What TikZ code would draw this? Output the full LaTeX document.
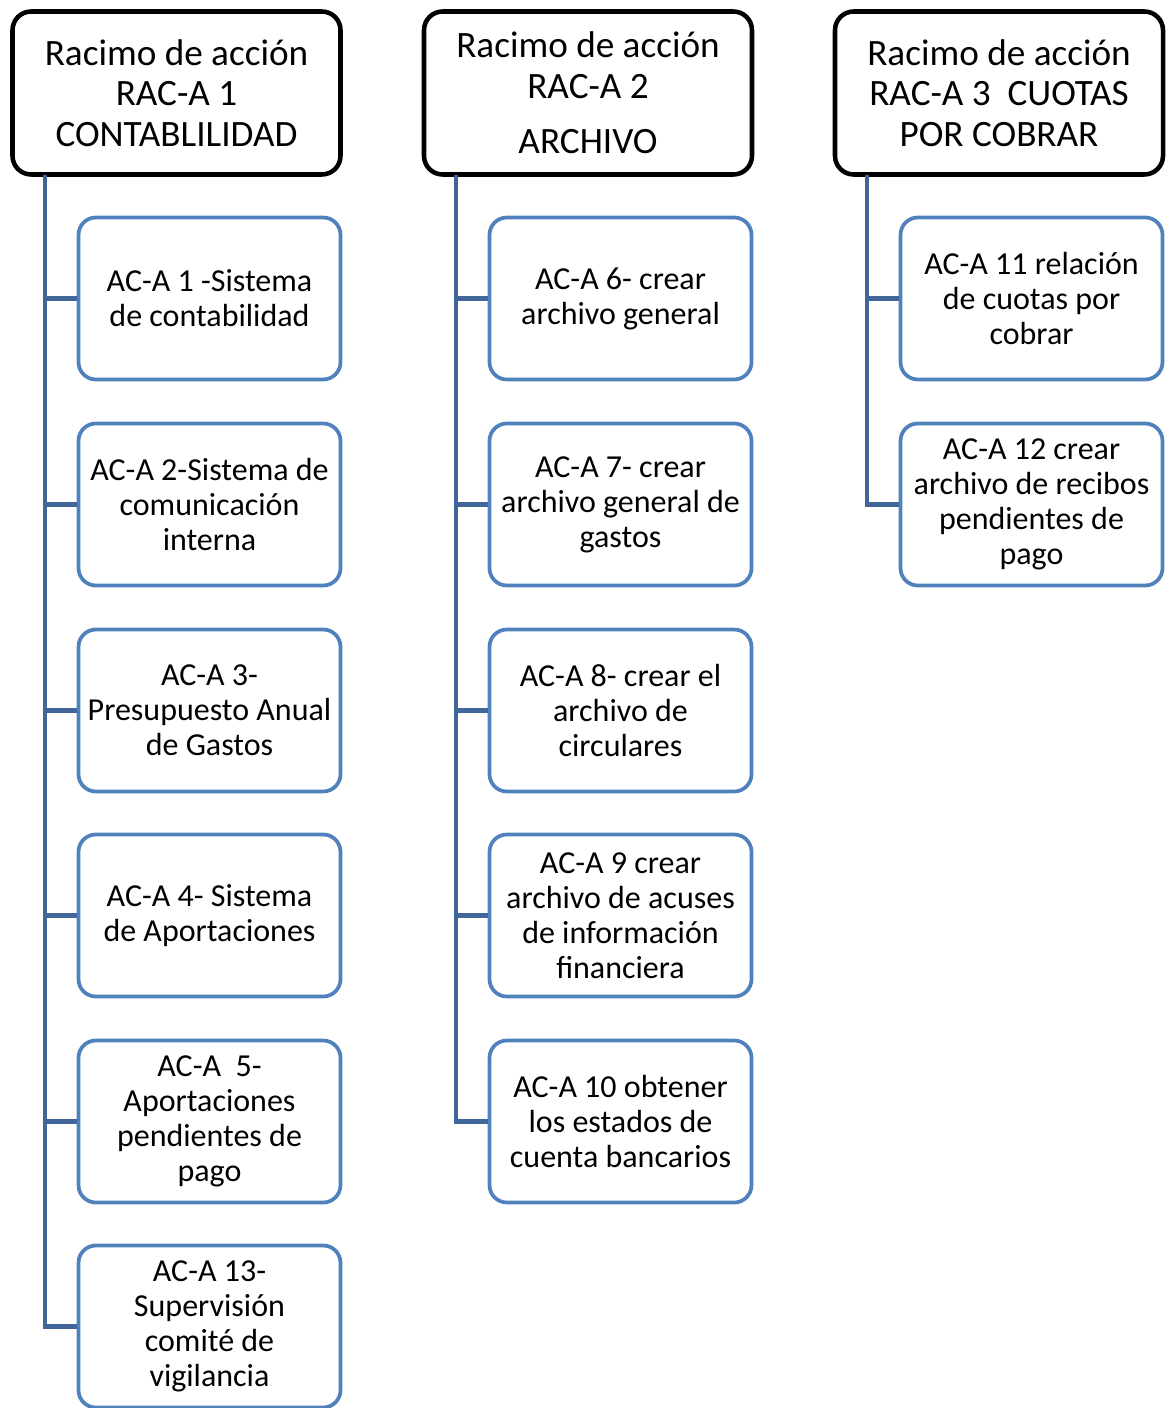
\documentclass[tikz,border=0pt]{standalone}
\usepackage{fontspec}
\setmainfont{Carlito}
\definecolor{boxblue}{HTML}{4F81BD}
\definecolor{linkblue}{HTML}{41679A}
\begin{document}
\begin{tikzpicture}[x=0.75pt,y=-0.75pt,
  header/.style={draw=black,line width=3.4pt,rounded corners=14pt,fill=white,
    minimum width=328*0.75pt,minimum height=163*0.75pt,align=center,inner sep=0pt,
    font=\fontsize{27.9}{30.4}\selectfont},
  item/.style={draw=boxblue,line width=2.8pt,rounded corners=13pt,fill=white,
    minimum width=262*0.75pt,minimum height=162*0.75pt,align=center,inner sep=0pt,
    font=\fontsize{24}{26.25}\selectfont},
  link/.style={draw=linkblue,line width=3.6pt}]
\useasboundingbox (0,0) rectangle (1166,1408);

% column headers
\node[header] (h1) at (176.5,93) {Racimo de acción\\RAC-A 1\\CONTABLILIDAD};
\node[header] (h2) at (588,93) {Racimo de acción\\RAC-A 2\\[11.5pt]ARCHIVO};
\node[header] (h3) at (999,93) {Racimo de acción\\RAC-A 3\ \ CUOTAS\\POR COBRAR};

% first column
\node[item] (a1) at (209.5,298.5) {AC-A 1 -Sistema\\de contabilidad};
\node[item] (a2) at (209.5,504.5) {AC-A 2-Sistema de\\comunicación\\interna};
\node[item] (a3) at (209.5,710.5) {AC-A 3-\\Presupuesto Anual\\de Gastos};
\node[item] (a4) at (209.5,915.5) {AC-A 4- Sistema\\de Aportaciones};
\node[item] (a5) at (209.5,1121.5) {AC-A\ \ 5-\\Aportaciones\\pendientes de\\pago};
\node[item] (a13) at (209.5,1326.5) {AC-A 13-\\Supervisión\\comité de\\vigilancia};

% second column
\node[item] (a6) at (620.5,298.5) {AC-A 6- crear\\archivo general};
\node[item] (a7) at (620.5,504.5) {AC-A 7- crear\\archivo general de\\gastos};
\node[item] (a8) at (620.5,710.5) {AC-A 8- crear el\\archivo de\\circulares};
\node[item] (a9) at (620.5,915.5) {AC-A 9 crear\\archivo de acuses\\de información\\financiera};
\node[item] (a10) at (620.5,1121.5) {AC-A 10 obtener\\los estados de\\cuenta bancarios};

% third column
\node[item] (a11) at (1031.5,298.5) {AC-A 11 relación\\de cuotas por\\cobrar};
\node[item] (a12) at (1031.5,504.5) {AC-A 12 crear\\archivo de recibos\\pendientes de\\pago};

% trunk start points under each header
\coordinate (t1) at (45,175);
\coordinate (t2) at (456,175);
\coordinate (t3) at (867,175);

% connectors
\foreach \c in {a1,a2,a3,a4,a5,a13} \draw[link] (t1) |- (\c.west);
\foreach \c in {a6,a7,a8,a9,a10} \draw[link] (t2) |- (\c.west);
\foreach \c in {a11,a12} \draw[link] (t3) |- (\c.west);
\end{tikzpicture}
\end{document}
